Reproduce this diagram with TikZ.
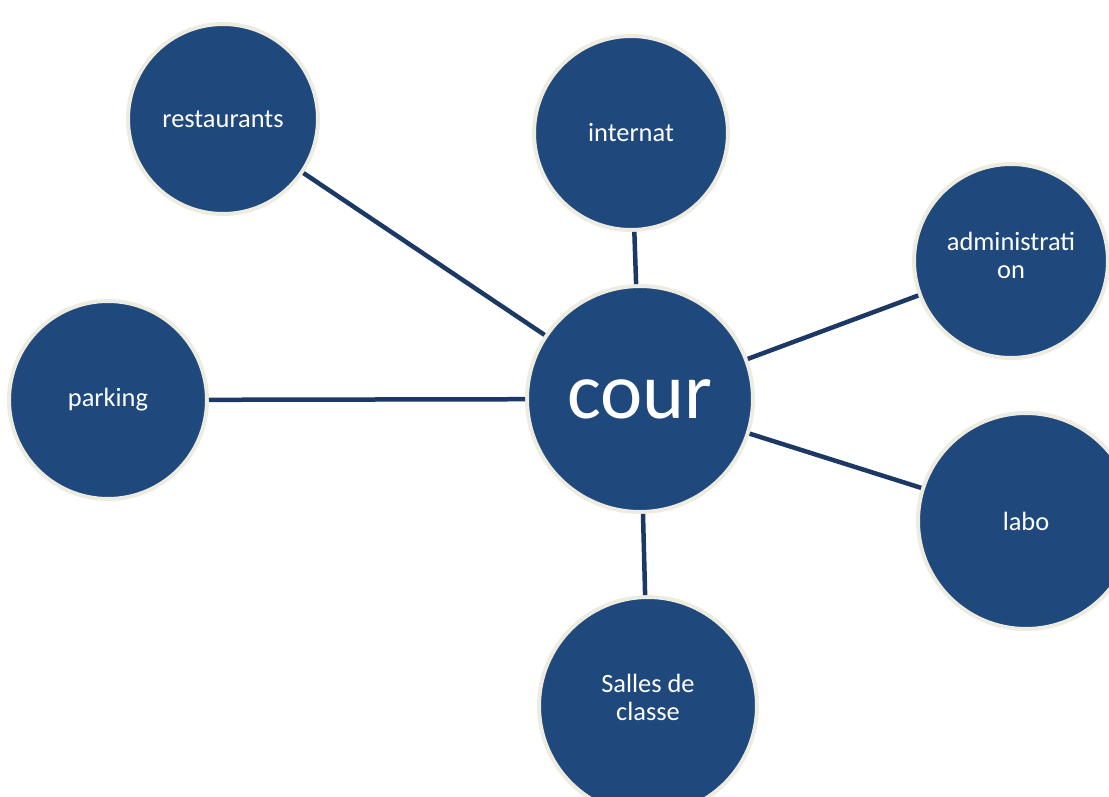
\documentclass[tikz,border=0pt]{standalone}
\usepackage{fontspec}
\setmainfont{Carlito}
\usepackage{tikz}
\definecolor{bulle}{RGB}{31,73,125}
\definecolor{bord}{RGB}{238,236,225}
\definecolor{trait}{RGB}{28,56,100}

\begin{document}
\begin{tikzpicture}[x = 1pt, y = -1pt,
  bulle/.style = {circle, fill = bulle, draw = bord, line width = 4pt, text = white, align = center, inner sep = 0pt, font = \fontsize{26.4}{28}\selectfont},
  lien/.style = {draw = trait, line width = 4.5pt}]
  \useasboundingbox (0,0) rectangle (1109,797);

  \node[bulle, minimum size = 226pt, font = \fontsize{80}{96}\selectfont] (cour) at (640,399) {cour};
  \node[bulle, minimum size = 190pt] (restaurants) at (223,119) {restaurants};
  \node[bulle, minimum size = 194pt] (internat) at (631,133) {internat};
  \node[bulle, minimum size = 194pt, text depth = 11pt] (admin) at (1011,261) {administrati\\on};
  \node[bulle, minimum size = 198pt] (parking) at (108,400) {parking};
  \node[bulle, minimum size = 216pt] (labo) at (1026,521) {labo};
  \node[bulle, minimum size = 218pt, text depth = 18pt] (salles) at (648,706) {Salles de\\classe};

  \draw[lien] (cour) -- (restaurants);
  \draw[lien] (cour) -- (internat);
  \draw[lien] (cour) -- (admin);
  \draw[lien] (cour) -- (parking);
  \draw[lien] (cour) -- (labo);
  \draw[lien] (cour) -- (salles);
\end{tikzpicture}
\end{document}
